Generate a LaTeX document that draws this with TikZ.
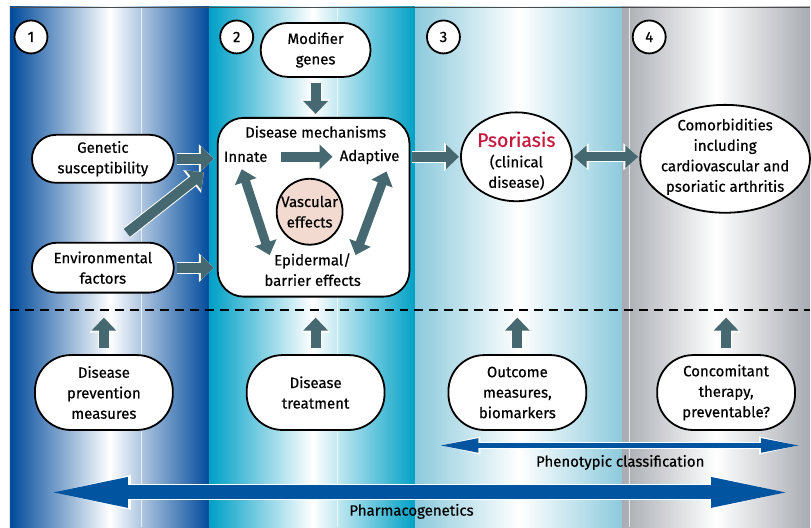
\documentclass[tikz,border=0pt]{standalone}
\usepackage{fontspec}
\setmainfont{Fira Sans}[UprightFeatures={FakeBold=0.5}]
\usepackage{tikz}
\usetikzlibrary{arrows.meta,shapes.geometric}
\definecolor{cslate}{RGB}{70,104,112}
\definecolor{cblue}{RGB}{0,84,160}
\definecolor{cred}{RGB}{200,24,60}
\definecolor{cpink}{RGB}{242,218,208}
\definecolor{colone}{RGB}{0,74,155}
\definecolor{coltwo}{RGB}{0,160,198}
\definecolor{colthree}{RGB}{140,202,220}
\definecolor{colfour}{RGB}{168,172,178}

\begin{document}
\begin{tikzpicture}[x=1pt,y=-1pt,font=\fontsize{15}{20.5}\selectfont,
  pill node/.style={rectangle,rounded corners=24pt,draw,line width=1.8pt,fill=white,align=center,inner sep=0pt},
  big pill node/.style={pill node,rounded corners=36pt,minimum width=138pt,minimum height=75pt},
  oval node/.style={ellipse,draw,line width=1.8pt,fill=white,inner sep=0pt},
  num node/.style={circle,draw,line width=1.8pt,fill=white,minimum size=33pt,inner sep=0pt},
  text node/.style={inner sep=1pt,align=center},
  fat/.style={draw=cslate,line width=10pt,-{Triangle[width=24pt,length=13pt]},
    preaction={draw=white,line width=12pt,-{Triangle[width=28pt,length=15pt]}}},
  fat both/.style={draw=cslate,line width=9pt,{Triangle[width=22pt,length=13pt]}-{Triangle[width=22pt,length=13pt]},
    preaction={draw=white,line width=11pt,{Triangle[width=26pt,length=15pt]}-{Triangle[width=26pt,length=15pt]}}},
  blue arrow/.style={draw=cblue,line width=#1},
  dash line/.style={black,line width=2pt,dash pattern=on 9pt off 6pt}]

  % columns
  \shade[left color=colone,right color=colone,middle color=white] (10,7) rectangle (210,528);
  \shade[left color=coltwo,right color=coltwo,middle color=white] (210,7) rectangle (416,528);
  \shade[left color=colthree,right color=colthree,middle color=white] (416,7) rectangle (623,528);
  \shade[left color=colfour,right color=colfour,middle color=white] (623,7) rectangle (811,528);
  \draw[white,opacity=.7] (141,7) -- (141,528) (338,7) -- (338,528) (630,7) -- (630,528);
  \draw[black!70] (10,7) -- (811,7);

  \node[num node] (n1) at (31,37) {1};
  \node[num node] (n2) at (237,37) {2};
  \node[num node] (n3) at (444,37) {3};
  \node[num node] (n4) at (650,37) {4};

  \node[pill node,minimum width=110pt,minimum height=54pt,rounded corners=27pt] (mod) at (316,50) {Modifier\\genes};
  \node[draw,line width=1.8pt,fill=white,rounded corners=26pt,minimum width=192pt,minimum height=179pt] (mech) at (314,207.5) {};
  \node[text node] (mtitle) at (316,132) {Disease mechanisms};
  \node[text node] (innate) at (246,157) {Innate};
  \node[text node] (adapt) at (370,157) {Adaptive};
  \node[circle,draw,line width=1.8pt,fill=cpink,minimum size=66pt,inner sep=0pt,align=center] (vasc) at (310,212) {Vascular\\effects};
  \node[text node] (epi) at (313,270) {Epidermal/\\barrier effects};

  \node[pill node,minimum width=142pt,minimum height=48pt] (gen) at (103,159) {Genetic\\susceptibility};
  \node[pill node,minimum width=142pt,minimum height=50pt,rounded corners=25pt] (env) at (103,268) {Environmental\\factors};

  \node[oval node,minimum width=111pt,minimum height=89pt] (pso) at (517,157) {};
  \node[text node] (psotext) at (517,161) {{\fontsize{19.5}{22}\selectfont\color{cred}Psoriasis}\\(clinical\\disease)};
  \node[oval node,minimum width=170pt,minimum height=108pt] (com) at (726,159) {};
  \node[text node] (comtext) at (726,157) {Comorbidities\\including\\cardiovascular and\\psoriatic arthritis};

  \coordinate (dashL) at (10,310);
  \coordinate (dashR) at (811,310);
  \draw[dash line] (dashL) -- (dashR);

  \node[big pill node] (prev) at (104,393) {Disease\\prevention\\measures};
  \node[big pill node] (treat) at (316,393) {Disease\\treatment};
  \node[big pill node] (outc) at (518,393) {Outcome\\measures,\\biomarkers};
  \node[big pill node] (conc) at (727,393) {Concomitant\\therapy,\\preventable?};

  \path
    (mod) edge[fat,shorten <=5pt,shorten >=3pt] (mod |- mech.north)
    (gen.east) edge[fat,shorten <=2pt,shorten >=3pt] (gen.east -| mech.west)
    (env.east) edge[fat,shorten <=2pt,shorten >=3pt] (env.east -| mech.west)
    ([xshift=24pt,yshift=9pt]env.north) edge[fat] ([xshift=-13pt,yshift=35pt]mech.west)
    (innate.east) edge[fat,shorten <=12pt,shorten >=6pt] (adapt.west)
    ([xshift=-4pt,yshift=-6pt]innate.south) edge[fat both] ([xshift=-43pt,yshift=-3pt]epi.north)
    ([xshift=17pt,yshift=-6pt]adapt.south) edge[fat both] ([xshift=43pt,yshift=-3pt]epi.north)
    (pso.west -| mech.east) edge[fat,shorten <=2pt,shorten >=1pt] (pso.west)
    (pso.east) edge[fat both,shorten <=1pt,shorten >=1pt] (pso.east -| com.west)
    (prev) edge[fat,shorten <=6pt,shorten >=8pt] (prev |- dashL)
    (treat) edge[fat,shorten <=6pt,shorten >=8pt] (treat |- dashL)
    (outc) edge[fat,shorten <=6pt,shorten >=8pt] (outc |- dashL)
    (conc) edge[fat,shorten <=6pt,shorten >=8pt] (conc |- dashL);

  % classification arrows
  \coordinate (phenL) at (439,446);
  \coordinate (phenR) at (802,446);
  \draw[blue arrow=5pt,{Triangle[width=13pt,length=40pt]}-{Triangle[width=13pt,length=40pt]},
    preaction={draw=white,line width=7pt,{Triangle[width=16pt,length=42pt]}-{Triangle[width=16pt,length=42pt]}}] (phenL) -- (phenR);
  \node[text node] (phentext) at (621,463) {Phenotypic classification};
  \coordinate (pharmL) at (40,493);
  \coordinate (pharmR) at (800,493);
  \draw[blue arrow=14pt,{Triangle[width=26pt,length=88pt]}-{Triangle[width=26pt,length=88pt]},
    preaction={draw=white,line width=16pt,{Triangle[width=29pt,length=91pt]}-{Triangle[width=29pt,length=91pt]}}] (pharmL) -- (pharmR);
  \node[text node] (pharmtext) at (412,512) {Pharmacogenetics};

  \useasboundingbox (0,0) rectangle (811,528);
\end{tikzpicture}
\end{document}
